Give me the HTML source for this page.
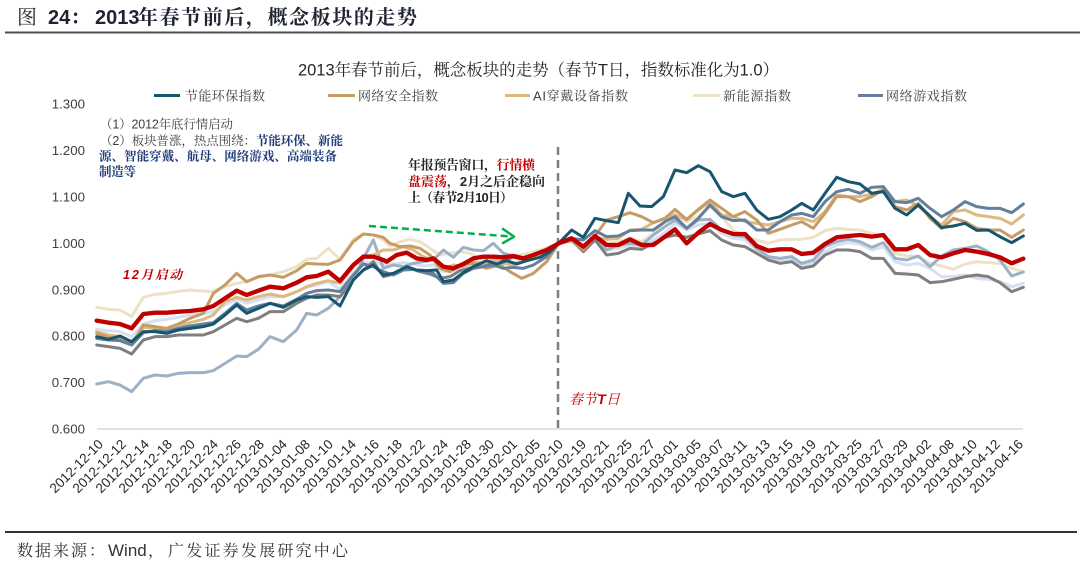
<!DOCTYPE html>
<html><head><meta charset="utf-8">
<style>
html,body{margin:0;padding:0;background:#fff;}
svg{display:block;}
text{font-family:"Liberation Sans","Noto Serif CJK SC",serif;}
.sans{font-family:"Liberation Sans","Noto Sans CJK SC",sans-serif;}
</style></head>
<body>
<svg width="1080" height="566" viewBox="0 0 1080 566" xmlns="http://www.w3.org/2000/svg">
<rect width="1080" height="566" fill="#fff"/>

<!-- Page title -->
<text x="17" y="24" font-size="20" fill="#2a2a2a">图</text>
<text x="48" y="24" font-size="20" font-weight="bold" fill="#1e2430">24：</text>
<text x="95" y="24" font-size="20" font-weight="bold" fill="#1e2430">2013</text>
<text x="138" y="24" font-size="20" font-weight="bold" fill="#1e2430" textLength="279" lengthAdjust="spacing">年春节前后，概念板块的走势</text>
<line x1="5" y1="32.5" x2="1080" y2="32.5" stroke="#4d4d4d" stroke-width="2"/>

<!-- Chart title -->
<text x="298" y="75.5" font-size="16.5" fill="#262626" textLength="481" lengthAdjust="spacing">2013年春节前后，概念板块的走势（春节T日，指数标准化为1.0）</text>

<!-- Legend -->
<g stroke-width="3">
<line x1="154" y1="95.5" x2="180" y2="95.5" stroke="#17566e"/>
<line x1="328" y1="95.5" x2="355" y2="95.5" stroke="#c69c66"/>
<line x1="505" y1="95.5" x2="530" y2="95.5" stroke="#dfb983"/>
<line x1="693" y1="95.5" x2="720" y2="95.5" stroke="#eee2c6"/>
<line x1="858" y1="95.5" x2="883" y2="95.5" stroke="#62809d"/>
</g>
<g font-size="13" fill="#404040">
<text x="185" y="100.5" textLength="80" lengthAdjust="spacing">节能环保指数</text>
<text x="358" y="100.5" textLength="80" lengthAdjust="spacing">网络安全指数</text>
<text x="533" y="100.5" textLength="95" lengthAdjust="spacing">AI穿戴设备指数</text>
<text x="723" y="100.5" textLength="68" lengthAdjust="spacing">新能源指数</text>
<text x="886" y="100.5" textLength="81" lengthAdjust="spacing">网络游戏指数</text>
</g>

<!-- Y axis labels -->
<g font-size="13.3" fill="#404040" text-anchor="end">
<text x="85" y="108.7">1.300</text>
<text x="85" y="155.1">1.200</text>
<text x="85" y="201.5">1.100</text>
<text x="85" y="247.9">1.000</text>
<text x="85" y="294.3">0.900</text>
<text x="85" y="340.7">0.800</text>
<text x="85" y="387.1">0.700</text>
<text x="85" y="433.5">0.600</text>
</g>

<!-- axis -->
<line x1="97" y1="429" x2="1023" y2="429" stroke="#d9d9d9" stroke-width="1.5"/>

<!-- X labels -->
<g font-size="13.5" fill="#262626" text-anchor="end">
<text transform="translate(104,445) rotate(-45)">2012-12-10</text>
<text transform="translate(127,445) rotate(-45)">2012-12-12</text>
<text transform="translate(150,445) rotate(-45)">2012-12-14</text>
<text transform="translate(173,445) rotate(-45)">2012-12-18</text>
<text transform="translate(196,445) rotate(-45)">2012-12-20</text>
<text transform="translate(219,445) rotate(-45)">2012-12-24</text>
<text transform="translate(242,445) rotate(-45)">2012-12-26</text>
<text transform="translate(265,445) rotate(-45)">2012-12-28</text>
<text transform="translate(288,445) rotate(-45)">2013-01-04</text>
<text transform="translate(311,445) rotate(-45)">2013-01-08</text>
<text transform="translate(334,445) rotate(-45)">2013-01-10</text>
<text transform="translate(357,445) rotate(-45)">2013-01-14</text>
<text transform="translate(380,445) rotate(-45)">2013-01-16</text>
<text transform="translate(403,445) rotate(-45)">2013-01-18</text>
<text transform="translate(426,445) rotate(-45)">2013-01-22</text>
<text transform="translate(449,445) rotate(-45)">2013-01-24</text>
<text transform="translate(472,445) rotate(-45)">2013-01-28</text>
<text transform="translate(495,445) rotate(-45)">2013-01-30</text>
<text transform="translate(518,445) rotate(-45)">2013-02-01</text>
<text transform="translate(541,445) rotate(-45)">2013-02-05</text>
<text transform="translate(564,445) rotate(-45)">2013-02-10</text>
<text transform="translate(587,445) rotate(-45)">2013-02-19</text>
<text transform="translate(610,445) rotate(-45)">2013-02-21</text>
<text transform="translate(633,445) rotate(-45)">2013-02-25</text>
<text transform="translate(656,445) rotate(-45)">2013-02-27</text>
<text transform="translate(679,445) rotate(-45)">2013-03-01</text>
<text transform="translate(702,445) rotate(-45)">2013-03-05</text>
<text transform="translate(725,445) rotate(-45)">2013-03-07</text>
<text transform="translate(748,445) rotate(-45)">2013-03-11</text>
<text transform="translate(771,445) rotate(-45)">2013-03-13</text>
<text transform="translate(794,445) rotate(-45)">2013-03-15</text>
<text transform="translate(817,445) rotate(-45)">2013-03-19</text>
<text transform="translate(840,445) rotate(-45)">2013-03-21</text>
<text transform="translate(863,445) rotate(-45)">2013-03-25</text>
<text transform="translate(886,445) rotate(-45)">2013-03-27</text>
<text transform="translate(909,445) rotate(-45)">2013-03-29</text>
<text transform="translate(932,445) rotate(-45)">2013-04-02</text>
<text transform="translate(955,445) rotate(-45)">2013-04-08</text>
<text transform="translate(978,445) rotate(-45)">2013-04-10</text>
<text transform="translate(1001,445) rotate(-45)">2013-04-12</text>
<text transform="translate(1024,445) rotate(-45)">2013-04-16</text>
</g>

<!-- vertical dashed T-day line -->
<line x1="558" y1="147" x2="558" y2="429" stroke="#7f7f7f" stroke-width="2.5" stroke-dasharray="8 5"/>

<!-- Series: pre-T part 1 -->
<g transform="translate(90,200) scale(0.333333)" fill="none" stroke-linejoin="round" stroke-linecap="round" stroke-width="9">
<polyline stroke="#d6e0f1" points="20,388 55,392 90,395 125,410 160,372 195,362 230,358 265,352 300,345 340,340 370,335 405,315 440,298 470,310 505,300 540,290 580,290 620,275 650,262 680,255 715,245 750,268 790,218 820,190 850,185"/>
<polyline stroke="#eee2c6" points="20,322 55,328 90,330 125,350 160,292 195,283 230,280 265,274 300,270 335,273 365,275 400,262 440,250 470,245 505,232 540,225 580,215 620,200 650,178 680,175 715,145 750,178 790,118 820,103 850,105"/>
<polyline stroke="#9cb1c6" points="20,552 55,545 90,555 125,575 160,535 195,525 230,528 265,520 300,518 340,518 370,512 405,490 440,468 470,470 505,448 540,410 580,425 620,390 650,340 680,345 715,325 750,290 790,240 820,175 850,120"/>
<polyline stroke="#7f7f7f" points="20,435 55,440 90,445 125,462 160,420 195,410 230,410 265,405 300,405 340,405 370,395 405,375 440,355 470,365 505,355 540,335 580,335 620,310 650,295 680,285 715,285 750,290 790,240 820,210 850,185"/>
<polyline stroke="#dfb983" points="20,395 55,405 90,410 125,428 160,382 195,385 230,388 265,378 300,368 340,358 370,345 405,305 440,292 470,300 505,290 540,282 580,290 620,275 650,260 680,250 715,242 750,250 790,200 820,172 850,165"/>
<polyline stroke="#c69c66" points="20,400 55,412 90,418 125,435 160,375 195,380 230,385 265,372 300,355 340,340 370,280 405,255 440,220 470,245 505,230 540,225 580,232 620,212 650,190 680,192 715,193 750,180 790,125 820,102 850,105"/>
<polyline stroke="#62809d" points="20,415 55,420 90,422 125,435 160,398 195,392 230,395 265,385 300,378 340,372 370,368 405,340 440,310 470,330 505,318 540,310 580,318 620,298 650,280 680,272 715,270 750,275 790,225 820,192 850,200"/>
<polyline stroke="#17566e" points="20,410 55,418 90,408 125,425 160,395 195,395 230,400 265,390 300,385 340,380 370,372 405,345 440,315 470,340 505,325 540,310 580,322 620,300 650,290 680,292 715,290 750,318 790,240 820,210 850,195"/>
<polyline stroke="#c00000" stroke-width="13" points="20,362 55,368 90,372 125,385 160,342 195,338 230,338 265,335 300,333 340,328 370,318 405,295 440,272 470,285 505,272 540,260 580,265 620,248 650,232 680,228 715,215 750,243 790,195 820,170 850,170"/>
</g>

<!-- Series: pre-T part 2 -->
<g transform="translate(340,140) scale(0.333333)" fill="none" stroke-linejoin="round" stroke-linecap="round" stroke-width="9">
<polyline stroke="#d6e0f1" points="100,365 130,375 160,372 190,368 220,372 250,378 280,375 310,395 340,392 370,380 400,372 430,370 460,368 490,372 520,368 550,365 580,358 620,340 656,310"/>
<polyline stroke="#eee2c6" points="100,285 130,300 150,318 180,305 210,298 240,305 270,325 300,345 330,340 360,335 390,340 420,355 450,365 480,358 510,350 540,345 570,338 600,330 630,320 656,310"/>
<polyline stroke="#9cb1c6" points="100,300 130,385 160,375 190,380 220,370 250,365 280,360 310,330 340,352 370,322 400,330 430,332 460,310 490,340 520,348 550,355 580,350 620,335 656,310"/>
<polyline stroke="#7f7f7f" points="100,365 130,410 170,400 200,382 240,395 270,402 300,415 330,410 360,392 400,382 430,375 470,368 520,352 560,360 600,345 630,330 656,310"/>
<polyline stroke="#dfb983" points="100,345 130,330 160,330 190,320 220,330 250,350 280,360 310,385 340,375 370,380 400,365 430,370 460,360 490,370 520,375 550,360 580,355 620,340 656,310"/>
<polyline stroke="#c69c66" points="100,285 130,292 150,310 180,320 210,318 240,325 270,345 300,385 330,395 360,375 400,370 440,385 480,375 510,395 545,415 580,400 620,365 656,310"/>
<polyline stroke="#62809d" points="100,380 130,395 160,405 190,390 220,388 250,395 280,400 310,430 340,428 370,400 400,385 430,380 460,375 490,385 520,382 550,385 580,375 620,350 656,310"/>
<polyline stroke="#17566e" points="100,375 130,405 160,400 200,380 230,390 260,392 290,390 310,425 340,420 370,398 400,380 440,362 470,372 500,362 530,372 560,362 600,352 630,335 656,310"/>
<polyline stroke="#c00000" stroke-width="13" points="100,350 130,360 140,365 170,345 200,338 230,355 260,360 280,355 310,380 340,385 370,372 400,355 430,350 460,350 490,352 520,348 550,355 580,345 620,330 656,310"/>
</g>

<!-- Series: post-T -->
<g transform="translate(560,150) scale(0.333333)" fill="none" stroke-linejoin="round" stroke-linecap="round" stroke-width="9">
<polyline stroke="#d6e0f1" points="-4,280 35,275 70,298 105,270 140,300 175,295 210,285 245,290 280,270 315,248 345,220 380,240 415,225 450,220 485,250 520,265 555,268 590,300 625,325 660,330 695,325 725,345 760,340 795,305 830,285 865,278 900,282 935,300 970,290 1005,335 1040,345 1075,340 1110,355 1145,380 1180,380 1215,375 1250,385 1285,388 1320,395 1355,410 1390,400"/>
<polyline stroke="#eee2c6" points="-4,280 35,268 70,300 105,270 140,282 175,275 210,265 245,275 280,250 315,215 345,188 380,215 415,200 450,170 485,200 520,240 555,260 590,270 625,280 660,270 695,268 725,268 760,262 795,242 830,235 865,238 900,240 935,250 970,260 1005,310 1040,318 1075,320 1110,340 1145,348 1180,358 1215,342 1250,335 1285,338 1320,340 1355,355 1390,365"/>
<polyline stroke="#9cb1c6" points="-4,280 35,272 70,295 105,262 140,300 175,285 210,280 245,285 280,255 315,230 345,210 380,235 415,210 450,208 485,240 520,255 555,260 590,295 625,320 660,325 695,320 725,340 760,330 795,290 830,275 865,268 900,275 935,292 970,278 1005,325 1040,330 1075,318 1110,350 1145,318 1180,300 1215,295 1250,288 1285,305 1320,330 1355,378 1390,366"/>
<polyline stroke="#7f7f7f" points="-4,280 35,270 70,305 105,270 140,315 175,310 210,295 245,298 280,280 315,262 345,255 380,262 415,252 450,242 485,270 520,285 555,290 590,310 625,330 660,340 695,335 725,355 760,348 795,315 830,300 865,300 900,305 935,325 970,325 1005,370 1040,372 1075,375 1110,398 1145,395 1180,388 1215,380 1250,375 1285,380 1320,398 1355,425 1390,412"/>
<polyline stroke="#dfb983" points="-4,280 35,265 70,290 105,262 140,268 175,265 210,240 245,238 280,218 315,205 345,195 380,210 415,180 450,155 485,195 520,200 555,215 590,220 625,225 660,215 695,205 725,205 760,215 795,185 830,135 865,140 900,140 935,132 970,118 1005,155 1040,150 1075,168 1110,200 1145,225 1180,185 1215,180 1250,195 1285,200 1320,205 1355,222 1390,195"/>
<polyline stroke="#c69c66" points="-4,280 35,270 70,300 105,258 140,210 175,200 210,188 245,200 280,218 315,205 345,178 380,208 415,178 450,150 485,175 520,200 555,185 590,210 625,250 660,238 695,225 725,215 760,235 795,190 830,140 865,140 900,155 935,140 970,120 1005,170 1040,180 1075,160 1110,205 1145,235 1180,205 1215,215 1250,235 1285,240 1320,240 1355,262 1390,240"/>
<polyline stroke="#62809d" points="-4,280 35,265 70,270 105,242 140,260 175,258 210,242 245,240 280,240 315,215 345,200 380,235 415,205 450,165 485,200 520,212 555,210 590,240 625,240 660,215 695,195 725,190 760,200 795,155 830,125 865,118 900,130 935,112 970,110 1005,155 1040,158 1075,145 1110,175 1145,200 1180,180 1215,155 1250,170 1285,175 1320,175 1355,188 1390,162"/>
<polyline stroke="#17566e" points="-4,280 35,240 70,262 105,205 140,212 175,218 205,130 240,168 275,170 310,140 345,60 380,68 415,47 450,65 485,125 520,140 555,130 590,180 625,208 660,200 695,180 725,160 760,180 795,130 830,82 865,95 900,102 935,130 970,125 1005,175 1040,195 1075,165 1110,198 1145,233 1180,228 1215,220 1250,241 1285,240 1320,260 1355,278 1390,258"/>
<polyline stroke="#c00000" stroke-width="13" points="-4,280 35,265 70,290 105,258 140,285 175,285 210,268 245,285 280,285 315,260 345,238 380,280 415,248 450,222 485,240 520,252 555,252 590,288 625,302 660,298 695,298 725,312 760,308 795,282 830,262 865,258 900,255 935,260 970,255 1005,298 1040,298 1075,285 1110,315 1145,322 1180,310 1215,300 1250,305 1285,312 1320,322 1355,340 1390,326"/>
</g>

<!-- Green dashed arrow -->
<g stroke="#00b050" stroke-width="2.5" fill="none">
<line x1="369" y1="226" x2="511" y2="236.5" stroke-dasharray="7 4"/>
<polyline points="503,229 514,236.7 503,243" stroke-linecap="round" stroke-linejoin="round"/>
</g>

<!-- Annotation 1 -->
<g font-size="12.5" fill="#404040">
<text x="100" y="128.5" textLength="133" lengthAdjust="spacing">（1）2012年底行情启动</text>
<text x="100" y="145" textLength="243" lengthAdjust="spacing">（2）板块普涨，热点围绕：<tspan fill="#1f3a7a" font-weight="bold">节能环保、新能</tspan></text>
<text x="99" y="160.5" fill="#1f3a7a" font-weight="bold" textLength="238" lengthAdjust="spacing">源、智能穿戴、航母、网络游戏、高端装备</text>
<text x="99" y="176" fill="#1f3a7a" font-weight="bold" textLength="37" lengthAdjust="spacing">制造等</text>
</g>

<text x="123" y="279" font-size="12.5" font-weight="bold" font-style="italic" fill="#c00000" textLength="59" lengthAdjust="spacing">12月启动</text>

<!-- Annotation 2 -->
<g font-size="13" font-weight="bold" fill="#262626">
<text x="408" y="169.5" textLength="127" lengthAdjust="spacing">年报预告窗口，<tspan fill="#c00000">行情横</tspan></text>
<text x="408" y="186" textLength="137" lengthAdjust="spacing"><tspan fill="#c00000">盘震荡</tspan>，2月之后企稳向</text>
<text x="408" y="202" textLength="105" lengthAdjust="spacing">上（春节2月10日）</text>
</g>

<text x="569" y="404" font-size="14" font-style="italic" fill="#c00000" textLength="51" lengthAdjust="spacing">春节<tspan font-weight="bold">T</tspan>日</text>

<!-- Bottom rule & source -->
<line x1="5" y1="532" x2="1077" y2="532" stroke="#333" stroke-width="2"/>
<g font-size="16" fill="#333">
<text x="17" y="556" textLength="88" lengthAdjust="spacing">数据来源：</text>
<text x="108" y="556" font-size="17">Wind</text>
<text x="148" y="556">，</text>
<text x="168" y="556" textLength="180" lengthAdjust="spacing">广发证券发展研究中心</text>
</g>
</svg>
</body></html>
